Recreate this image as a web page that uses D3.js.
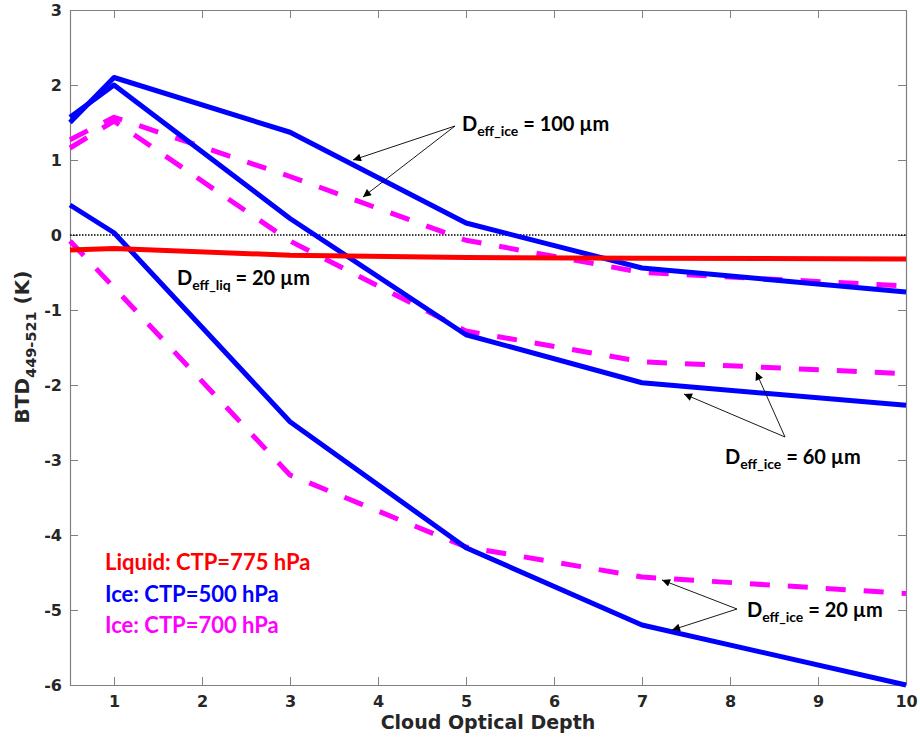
<!DOCTYPE html>
<html>
<head>
<meta charset="utf-8">
<script src="https://cdn.jsdelivr.net/npm/d3@7"></script>
<style>
  body { margin: 0; background: #fff; }
  svg { display: block; }
  .tick text { font-family: "DejaVu Sans", sans-serif; font-weight: bold; font-size: 16px; fill: #262626; }
  .note { font-family: Lato, "Open Sans", sans-serif; font-weight: bold; fill: #000; }
</style>
</head>
<body>
<div id="chart"></div>
<script>
const width = 920;
const height = 738;
const margin = { top: 10, right: 14, bottom: 53, left: 70 };

// optical depths where the curves were computed
const tau = [0.5, 1, 3, 5, 7, 10];

// liquid cloud, CTP = 775 hPa, Deff = 20 um
const liq775 = [-0.2, -0.18, -0.27, -0.3, -0.31, -0.32];

// ice clouds, CTP = 500 hPa
const ice500_100 = [1.5, 2.1, 1.37, 0.16, -0.44, -0.76];
const ice500_60 = [1.57, 2.0, 0.22, -1.33, -1.97, -2.27];
const ice500_20 = [0.4, 0.03, -2.49, -4.17, -5.2, -6.0];

// ice clouds, CTP = 700 hPa
const ice700_100 = [1.27, 1.57, 0.78, -0.07, -0.5, -0.68];
const ice700_60 = [1.16, 1.52, -0.08, -1.28, -1.69, -1.85];
const ice700_20 = [-0.08, -0.7, -3.2, -4.16, -4.56, -4.78];

const xTicks = [1, 2, 3, 4, 5, 6, 7, 8, 9, 10];
const yTicks = [-6, -5, -4, -3, -2, -1, 0, 1, 2, 3];

const svg = d3.select('#chart').append('svg')
  .attr('width', width)
  .attr('height', height);

const x = d3.scaleLinear().domain([0.5, 10]).range([margin.left, width - margin.right]);
const y = d3.scaleLinear().domain([-6, 3]).range([height - margin.bottom, margin.top]);

const axisColor = '#808080';
const plain = d => String(d); // hyphen minus like the original

// box axes with inward ticks (matlab style)
function styleAxis(g) {
  g.select('.domain').attr('stroke', axisColor).attr('stroke-width', 1.2);
  g.selectAll('.tick line').attr('stroke', axisColor).attr('stroke-width', 1);
}

svg.append('g')
  .attr('transform', `translate(0,${y(-6)})`)
  .call(d3.axisBottom(x).tickValues(xTicks).tickFormat(plain).tickSize(-8).tickPadding(11).tickSizeOuter(0))
  .call(styleAxis);

svg.append('g')
  .attr('transform', `translate(0,${y(3)})`)
  .call(d3.axisTop(x).tickValues(xTicks).tickSize(-8).tickFormat('').tickSizeOuter(0))
  .call(styleAxis);

svg.append('g')
  .attr('transform', `translate(${x(0.5)},0)`)
  .call(d3.axisLeft(y).tickValues(yTicks).tickFormat(plain).tickSize(-8).tickPadding(8).tickSizeOuter(0))
  .call(styleAxis);

svg.append('g')
  .attr('transform', `translate(${x(10)},0)`)
  .call(d3.axisRight(y).tickValues(yTicks).tickSize(-8).tickFormat('').tickSizeOuter(0))
  .call(styleAxis);

// zero line
svg.append('line')
  .attr('x1', x(0.5)).attr('x2', x(10))
  .attr('y1', y(0)).attr('y2', y(0))
  .attr('stroke', '#000').attr('stroke-width', 1.5)
  .attr('stroke-dasharray', '1.5,1.5');

const line = d3.line().x((d, i) => x(tau[i])).y(d => y(d));

const series = [
  { v: ice700_100, color: '#ff00ff', dash: '20,18' },
  { v: ice700_60, color: '#ff00ff', dash: '20,18' },
  { v: ice700_20, color: '#ff00ff', dash: '20,18' },
  { v: ice500_100, color: '#0000ff', dash: null },
  { v: ice500_60, color: '#0000ff', dash: null },
  { v: ice500_20, color: '#0000ff', dash: null },
  { v: liq775, color: '#ff0000', dash: null }
];

series.forEach(s => {
  svg.append('path')
    .datum(s.v)
    .attr('d', line)
    .attr('fill', 'none')
    .attr('stroke', s.color)
    .attr('stroke-width', 5)
    .attr('stroke-linejoin', 'round')
    .attr('stroke-dasharray', s.dash);
});

// axis titles
svg.append('text')
  .attr('x', (x(0.5) + x(10)) / 2)
  .attr('y', 729)
  .attr('text-anchor', 'middle')
  .style('font-family', '"DejaVu Sans", sans-serif')
  .style('font-weight', 'bold')
  .style('font-size', '19px')
  .style('fill', '#262626')
  .text('Cloud Optical Depth');

const yl = svg.append('text')
  .attr('transform', 'translate(29,347) rotate(-90)')
  .attr('text-anchor', 'middle')
  .style('font-family', '"DejaVu Sans", sans-serif')
  .style('font-weight', 'bold')
  .style('font-size', '20px')
  .style('fill', '#262626');
yl.append('tspan').text('BTD');
yl.append('tspan').attr('dy', 7).style('font-size', '14.5px').text('449-521');
yl.append('tspan').attr('dy', -7).text(' (K)');

// arrows
const defs = svg.append('defs');
defs.append('marker')
  .attr('id', 'arrow')
  .attr('viewBox', '0 0 10 10')
  .attr('refX', 10).attr('refY', 5)
  .attr('markerWidth', 11).attr('markerHeight', 8)
  .attr('markerUnits', 'userSpaceOnUse')
  .attr('orient', 'auto')
  .append('path')
  .attr('d', 'M0,0 L10,5 L0,10 z')
  .attr('fill', '#000');

function arrow(x1, y1, x2, y2) {
  svg.append('line')
    .attr('x1', x1).attr('y1', y1).attr('x2', x2).attr('y2', y2)
    .attr('stroke', '#000').attr('stroke-width', 0.9)
    .attr('marker-end', 'url(#arrow)');
}

arrow(455, 126, 353, 160);
arrow(455, 126, 363, 197);
arrow(785, 437, 684, 394);
arrow(785, 437, 756, 372);
arrow(737, 609, 662, 580);
arrow(737, 609, 672, 630);

function label(px, py, sub, rest) {
  const t = svg.append('text').attr('class', 'note')
    .attr('x', px).attr('y', py).style('font-size', '20px');
  t.append('tspan').text('D');
  t.append('tspan').attr('dy', 5).style('font-size', '14px').text(sub);
  t.append('tspan').attr('dy', -5).text(rest);
}

label(462, 131, 'eff_ice', ' = 100 \u00b5m');
label(177, 285, 'eff_liq', ' = 20 \u00b5m');
label(725, 464, 'eff_ice', ' = 60 \u00b5m');
label(747, 617, 'eff_ice', ' = 20 \u00b5m');

// legend text
const legend = [
  { text: 'Liquid: CTP=775 hPa', color: '#ff0000', y: 570 },
  { text: 'Ice: CTP=500 hPa', color: '#0000ff', y: 602 },
  { text: 'Ice: CTP=700 hPa', color: '#ff00ff', y: 633 }
];
legend.forEach(l => {
  svg.append('text').attr('class', 'note')
    .attr('x', 105).attr('y', l.y)
    .style('font-size', '22px')
    .style('fill', l.color)
    .text(l.text);
});
</script>
</body>
</html>
